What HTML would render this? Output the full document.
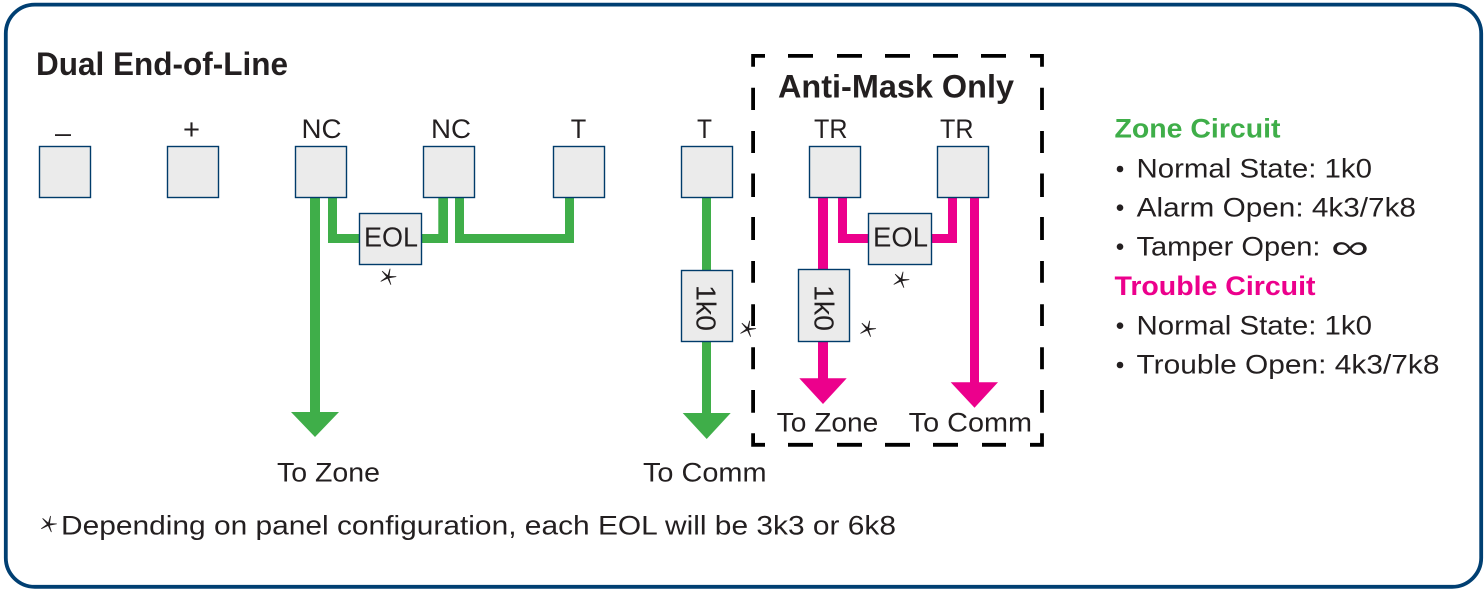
<!DOCTYPE html>
<html><head><meta charset="utf-8"><style>
html,body{margin:0;padding:0;background:#fff;width:1484px;height:591px;overflow:hidden}
svg{display:block}
text{font-family:"Liberation Sans",sans-serif;fill:#231f20;font-size:27px}
.b{font-weight:bold}
.box{fill:#ebebeb;stroke:#003b6a;stroke-width:1.4}
</style></head><body>
<svg width="1484" height="591" viewBox="0 0 1484 591" xmlns="http://www.w3.org/2000/svg">
<rect x="5.8" y="4.6" width="1475.4" height="582.2" rx="29" ry="29" fill="#fff" stroke="#003f72" stroke-width="3.8"/>

<!-- green wires -->
<g fill="#3fae49">
<rect x="310" y="197" width="10" height="216"/>
<polygon points="291,412 339,412 315,437"/>
<path d="M328 197h9v37h23v9h-32z"/>
<path d="M421 234h17.300v-37h9.700v46h-27z"/>
<path d="M455 197h9v37h101v-37h9v46h-119z"/>
<rect x="702" y="197" width="9" height="217"/>
<polygon points="682.700,413 730.700,413 706.700,439"/>
</g>
<!-- pink wires -->
<g fill="#ec008c">
<rect x="818" y="197" width="10" height="182"/>
<polygon points="799.300,378.300 846.700,378.300 823,404"/>
<path d="M838 197h9v37h22v9h-31z"/>
<path d="M931 234h17v-37h9v46h-26z"/>
<rect x="970" y="197" width="9" height="186"/>
<polygon points="950.700,382.300 998,382.300 974.500,407.700"/>
</g>

<!-- dashed box -->
<path fill="none" stroke="#000" stroke-width="3.800" d="
M753.100 66.700V55.900H765 M788 55.900H813 M837 55.900H862 M885 55.900H910 M933 55.900H958 M981 55.900H1006 M1030 55.900H1042V66.700
M753.100 87.700V110 M753.100 131V153 M753.100 173.500V197 M753.100 217V240 M753.100 261V282.700 M753.100 304.300V326 M753.100 347.300V369.300 M753.100 390V412.700 M753.100 433.300V444.800H765
M788 444.800H813 M837 444.800H862 M885 444.800H910 M933 444.800H958 M982 444.800H1006 M1030 444.800H1042V433.300
M1042 87.700V110 M1042 131V153 M1042 173.500V197 M1042 217V240 M1042 261V282.700 M1042 304.300V326 M1042 347.300V369.300 M1042 390V412.700"/>

<!-- terminal boxes -->
<rect class="box" x="39.500" y="146.500" width="51" height="51"/>
<rect class="box" x="167.500" y="146.500" width="51" height="51"/>
<rect class="box" x="295.500" y="146.500" width="51" height="51"/>
<rect class="box" x="423.500" y="146.500" width="51" height="51"/>
<rect class="box" x="553.500" y="146.500" width="51" height="51"/>
<rect class="box" x="681.500" y="146.500" width="51" height="51"/>
<rect class="box" x="809.500" y="146.500" width="51" height="51"/>
<rect class="box" x="937.500" y="146.500" width="51" height="51"/>
<!-- resistors -->
<rect class="box" x="359.500" y="213.500" width="62" height="51"/>
<rect class="box" x="868.500" y="213.500" width="63" height="51"/>
<rect class="box" x="681.500" y="270.500" width="51" height="71"/>
<rect class="box" x="798.500" y="269.500" width="51" height="72"/>

<!-- stars -->
<g fill="#231f20" stroke="#231f20" stroke-width="0.8" stroke-linejoin="round">
<polygon transform="translate(388,277)" points="2,-8 1,-0.600 8,-0.400 0.800,0.900 2.800,7.500 -0.300,1.100 -7,4.300 -1.100,0 -5.700,-5.700 -0.100,-1.100"/>
<polygon transform="translate(747.700,329)" points="2,-8 1,-0.600 8,-0.400 0.800,0.900 2.800,7.500 -0.300,1.100 -7,4.300 -1.100,0 -5.700,-5.700 -0.100,-1.100"/>
<polygon transform="translate(867.700,329)" points="2,-8 1,-0.600 8,-0.400 0.800,0.900 2.800,7.500 -0.300,1.100 -7,4.300 -1.100,0 -5.700,-5.700 -0.100,-1.100"/>
<polygon transform="translate(901,280)" points="2,-8 1,-0.600 8,-0.400 0.800,0.900 2.800,7.500 -0.300,1.100 -7,4.300 -1.100,0 -5.700,-5.700 -0.100,-1.100"/>
<polygon transform="translate(48.500,524.300)" points="2,-8 1,-0.600 8,-0.400 0.800,0.900 2.800,7.500 -0.300,1.100 -7,4.300 -1.100,0 -5.700,-5.700 -0.100,-1.100"/>
</g>

<!-- titles -->
<text class="b" x="36" y="75" style="font-size:32px" textLength="252" lengthAdjust="spacingAndGlyphs">Dual End-of-Line</text>
<text class="b" x="778" y="97.300" style="font-size:32px" textLength="236" lengthAdjust="spacingAndGlyphs">Anti-Mask Only</text>

<!-- terminal labels -->
<text x="55" y="142" textLength="16" lengthAdjust="spacingAndGlyphs">–</text>
<text x="183" y="139" style="font-size:29px" textLength="17" lengthAdjust="spacingAndGlyphs">+</text>
<text x="301.500" y="138" textLength="40" lengthAdjust="spacingAndGlyphs">NC</text>
<text x="431" y="138" textLength="40" lengthAdjust="spacingAndGlyphs">NC</text>
<text x="570.700" y="138" textLength="15.500" lengthAdjust="spacingAndGlyphs">T</text>
<text x="697" y="138" textLength="15" lengthAdjust="spacingAndGlyphs">T</text>
<text x="814" y="138" textLength="33.500" lengthAdjust="spacingAndGlyphs">TR</text>
<text x="940" y="138" textLength="33.500" lengthAdjust="spacingAndGlyphs">TR</text>

<text x="364" y="246.700" style="font-size:28px" textLength="54" lengthAdjust="spacingAndGlyphs">EOL</text>
<text x="873" y="246.700" style="font-size:28px" textLength="55" lengthAdjust="spacingAndGlyphs">EOL</text>
<text transform="translate(696.500,285) rotate(90)" style="font-size:28px" textLength="46" lengthAdjust="spacingAndGlyphs">1k0</text>
<text transform="translate(814.500,285) rotate(90)" style="font-size:28px" textLength="46" lengthAdjust="spacingAndGlyphs">1k0</text>

<text x="277" y="481.300" textLength="103" lengthAdjust="spacingAndGlyphs">To Zone</text>
<text x="643" y="481.300" textLength="123.500" lengthAdjust="spacingAndGlyphs">To Comm</text>
<text x="776.700" y="431.700" textLength="101.600" lengthAdjust="spacingAndGlyphs">To Zone</text>
<text x="908.700" y="431.700" textLength="123.300" lengthAdjust="spacingAndGlyphs">To Comm</text>

<text x="61" y="534.300" textLength="835" lengthAdjust="spacingAndGlyphs">Depending on panel configuration, each EOL will be 3k3 or 6k8</text>

<!-- legend -->
<text class="b" x="1114.500" y="137.300" style="fill:#3fae49" textLength="166" lengthAdjust="spacingAndGlyphs">Zone Circuit</text>
<text class="b" x="1114.500" y="295" style="fill:#ec008c" textLength="201" lengthAdjust="spacingAndGlyphs">Trouble Circuit</text>
<g fill="#231f20">
<circle cx="1120" cy="169" r="3.300"/>
<circle cx="1120" cy="207.700" r="3.300"/>
<circle cx="1120" cy="246.700" r="3.300"/>
<circle cx="1120" cy="325.700" r="3.300"/>
<circle cx="1120" cy="365" r="3.300"/>
</g>
<text x="1136.500" y="177.700" textLength="235.500" lengthAdjust="spacingAndGlyphs">Normal State: 1k0</text>
<text x="1136.700" y="216.700" textLength="279.300" lengthAdjust="spacingAndGlyphs">Alarm Open: 4k3/7k8</text>
<text x="1136.500" y="255.700" textLength="184" lengthAdjust="spacingAndGlyphs">Tamper Open:</text>
<text x="1331" y="258.500" style="font-size:34px" textLength="38" lengthAdjust="spacingAndGlyphs">∞</text>
<text x="1136.500" y="334.300" textLength="235.500" lengthAdjust="spacingAndGlyphs">Normal State: 1k0</text>
<text x="1136.500" y="373.300" textLength="303" lengthAdjust="spacingAndGlyphs">Trouble Open: 4k3/7k8</text>
</svg>
</body></html>
